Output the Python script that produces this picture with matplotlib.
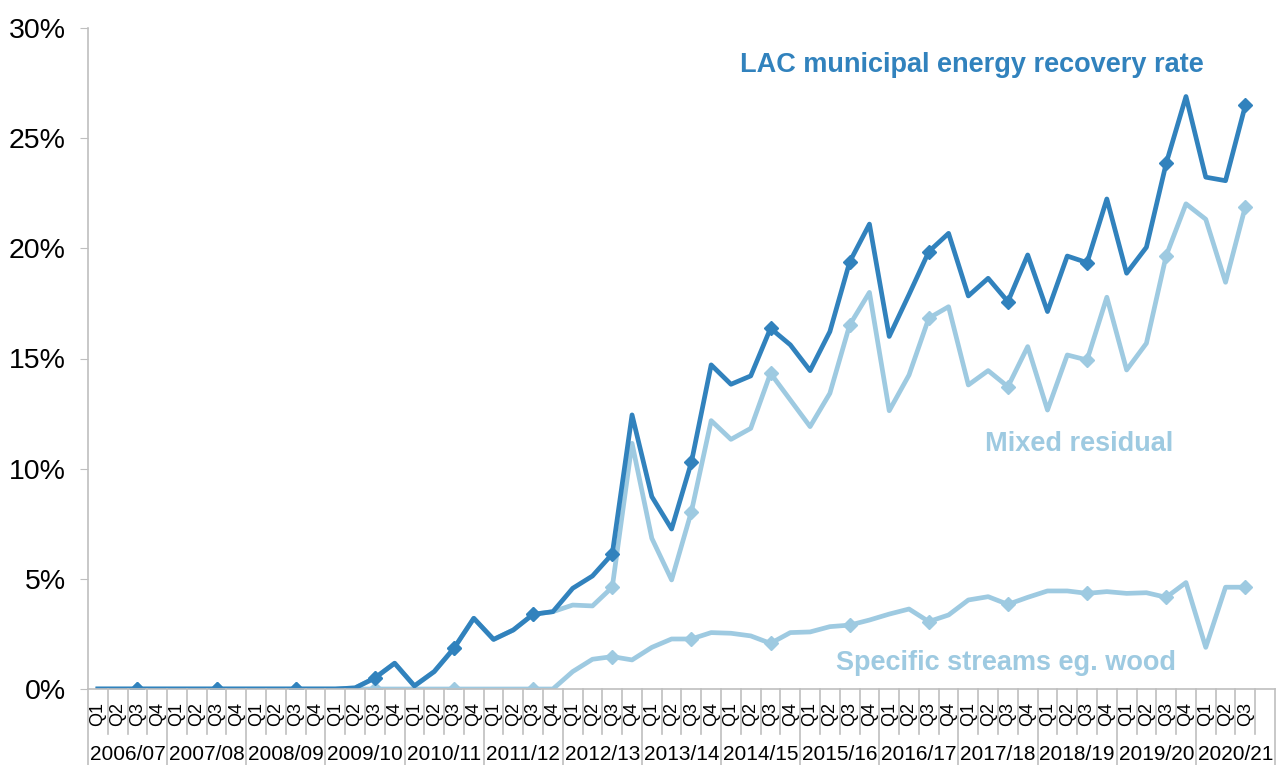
import matplotlib
matplotlib.use("Agg")
import matplotlib.pyplot as plt
from matplotlib.ticker import FuncFormatter
import numpy as np

plt.rcParams['font.family'] = ['Liberation Sans', 'DejaVu Sans']

years = ["2006/07", "2007/08", "2008/09", "2009/10", "2010/11", "2011/12", "2012/13",
         "2013/14", "2014/15", "2015/16", "2016/17", "2017/18", "2018/19", "2019/20", "2020/21"]
quarters = ["Q1", "Q2", "Q3", "Q4"]

# LAC municipal energy recovery rate (%), 2006/07 Q1 .. 2020/21 Q3
total = [0, 0, 0, 0, 0, 0, 0, 0, 0, 0, 0, 0, 0, 0.05, 0.5, 1.17,
         0.14, 0.79, 1.85, 3.21, 2.25, 2.68, 3.39, 3.51, 4.57, 5.13, 6.13, 12.44,
         8.73, 7.26, 10.29, 14.71, 13.83, 14.21, 16.37, 15.62, 14.45, 16.22, 19.38, 21.1,
         16.0, 17.9, 19.85, 20.68, 17.84, 18.64, 17.58, 19.7, 17.13, 19.65, 19.35, 22.24,
         18.87, 20.05, 23.86, 26.89, 23.23, 23.07, 26.49]

mixed = [0, 0, 0, 0, 0, 0, 0, 0, 0, 0, 0, 0, 0, 0.05, 0.5, 1.17,
         0.14, 0.79, 1.85, 3.21, 2.25, 2.68, 3.39, 3.51, 3.81, 3.77, 4.62, 11.15,
         6.84, 4.95, 8.05, 12.18, 11.33, 11.83, 14.33, 13.12, 11.91, 13.42, 16.52, 18.0,
         12.63, 14.25, 16.83, 17.35, 13.8, 14.45, 13.72, 15.54, 12.66, 15.16, 14.93, 17.78,
         14.48, 15.69, 19.67, 22.02, 21.32, 18.46, 21.89]

specific = [0, 0, 0, 0, 0, 0, 0, 0, 0, 0, 0, 0, 0, 0, 0, 0,
            0, 0, 0, 0, 0, 0, 0, 0, 0.79, 1.35, 1.47, 1.32,
            1.89, 2.27, 2.27, 2.56, 2.53, 2.41, 2.07, 2.56, 2.59, 2.83, 2.9, 3.13,
            3.4, 3.63, 3.06, 3.36, 4.04, 4.19, 3.84, 4.16, 4.45, 4.45, 4.34, 4.42,
            4.34, 4.37, 4.16, 4.83, 1.89, 4.62, 4.62]

dark = "#3182BD"
light = "#9ECAE1"
grey = "#BFBFBF"

fig = plt.figure(figsize=(12.76, 7.65), dpi=100)
ax = fig.add_axes([88 / 1276, 76 / 765, 1187 / 1276, 661 / 765])

x = np.arange(len(total))
n_slots = len(years) * 4
mk = dict(marker="D", markersize=7, markevery=slice(2, None, 4))

ax.plot(x, specific, color=light, lw=3.4, **mk)
ax.plot(x, mixed, color=light, lw=3.4, **mk)
ax.plot(x, total, color=dark, lw=3.4, **mk)

ax.set_xlim(-0.5, n_slots - 0.5)
ax.set_ylim(0, 30)
ax.set_yticks(range(0, 31, 5))
ax.yaxis.set_major_formatter(FuncFormatter(lambda v, p: f"{v:.0f}%"))
ax.tick_params(axis="y", labelsize=20.5, length=6, color=grey, pad=10)
ax.set_xticks([])

for s in ["top", "right"]:
    ax.spines[s].set_visible(False)
ax.spines["left"].set_color(grey)
ax.spines["bottom"].set_color(grey)
ax.spines["left"].set_linewidth(1.2)
ax.spines["bottom"].set_linewidth(1.2)

# multi-level category axis
tr = ax.get_xaxis_transform()
px = 1 / 661
for k in range(n_slots + 1):
    depth = 76 if k % 4 == 0 else 45
    ax.plot([k - 0.5, k - 0.5], [0, -depth * px], color=grey, lw=1.2,
            transform=tr, clip_on=False)
for k in range(len(total)):
    ax.text(k, -25 * px, quarters[k % 4], rotation=90, ha="center", va="center",
            fontsize=13, transform=tr)
for j, yr in enumerate(years):
    ax.text(j * 4 + 1.5, -65 * px, yr, ha="center", va="center", fontsize=15,
            transform=tr)

ax.text(44.2, 28.3, "LAC municipal energy recovery rate", color=dark,
        fontsize=19.5, fontweight="bold", ha="center", va="center")
ax.text(49.6, 11.1, "Mixed residual", color=light,
        fontsize=19.5, fontweight="bold", ha="center", va="center")
ax.text(45.9, 1.2, "Specific streams eg. wood", color=light,
        fontsize=19.5, fontweight="bold", ha="center", va="center")

fig.savefig("out.png", dpi=100)
